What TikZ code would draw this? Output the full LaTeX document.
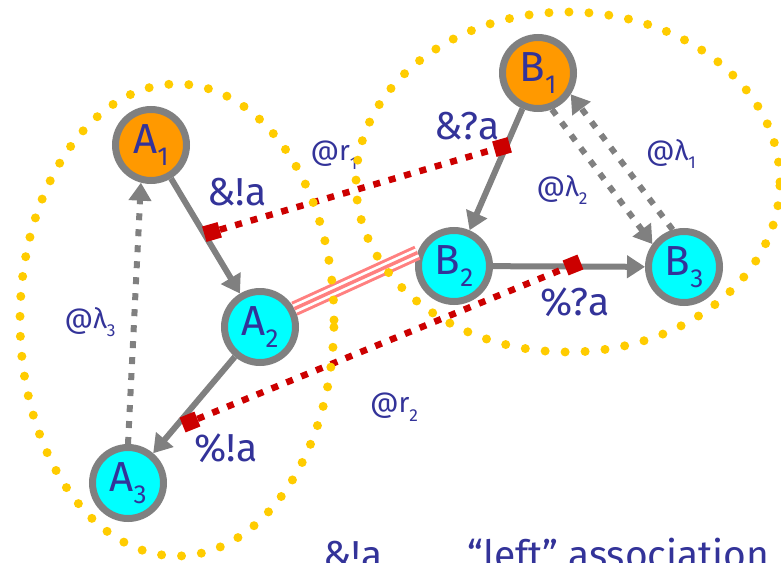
\documentclass[tikz,border=0pt]{standalone}
\usepackage{fontspec}
\setmainfont{Fira Sans}
\usetikzlibrary{arrows.meta,calc}
\definecolor{ink}{HTML}{333399}
\definecolor{ring}{HTML}{808080}
\definecolor{orangefill}{HTML}{FF9900}
\definecolor{cyanfill}{HTML}{00FFFF}
\definecolor{assoc}{HTML}{FF8080}
\definecolor{link}{HTML}{CC0000}
\definecolor{group}{HTML}{FFCC00}
\newcommand{\lowsub}[1]{\raisebox{-0.3em}{\scalebox{0.62}{#1}}}
\tikzset{
  state/.style={circle, draw=ring, line width=7pt, minimum size=71pt, inner sep=0pt, font=\fontsize{42}{42}\selectfont\color{ink}},
  init/.style={state, fill=orangefill},
  plain/.style={state, fill=cyanfill},
  op/.style={font=\fontsize{39}{40}\selectfont\color{ink}, inner sep=0pt},
  rate/.style={font=\fontsize{28}{30}\selectfont\color{ink}, inner sep=0pt},
  move/.style={-{Triangle[length=18pt,width=22pt]}, draw=ring, line width=6pt},
  back/.style={move, dash pattern=on 7pt off 9pt},
  sync/.style={draw=link, line width=6.5pt, dash pattern=on 7pt off 9pt},
  port/.style={rectangle, fill=link, minimum size=16pt, inner sep=0pt},
  bundle/.style={draw=group, line width=9pt, line cap=round, dash pattern=on 0pt off 20pt},
}

\begin{document}
\begin{tikzpicture}[x=1pt, y=-1pt]
    \useasboundingbox (0,0) rectangle (781,562);
    % components A and B
    \node[init]  (A1) at (151,145) {A\lowsub{1}};
    \node[plain] (A2) at (260,327) {A\lowsub{2}};
    \node[plain] (A3) at (128,483) {A\lowsub{3}};
    \node[init]  (B1) at (538,73)  {B\lowsub{1}};
    \node[plain] (B2) at (454,266) {B\lowsub{2}};
    \node[plain] (B3) at (684,267) {B\lowsub{3}};
    % labels
    \node[op] (opA1) at (237,192) {\&!a};
    \node[op] (opB1) at (467,126) {\&?a};
    \node[op] (opB2) at (575,302) {\%?a};
    \node[op] (opA2) at (226,448) {\%!a};
    \node[rate] (r1) at (334,155) {@r\lowsub{1}};
    \node[rate] (r2) at (394,407) {@r\lowsub{2}};
    \node[rate] (l1) at (671,154) {@λ\lowsub{1}};
    \node[rate] (l2) at (562,190) {@λ\lowsub{2}};
    \node[rate] (l3) at (90,322)  {@λ\lowsub{3}};
    % transitions
    \draw[move] (A1) -- (A2);
    \draw[move] (A2) -- (A3);
    \draw[back] (A3.north) -- (A1.255);
    \draw[move] (B1) -- (B2);
    \draw[move] (B2) -- (B3);
    \draw[back] (B1.291) -- (B3.144);
    \draw[back] (B3.107) -- (B1.327);
    % association A2 -- B2
    \foreach \w/\c in {15/assoc, 9/white, 3.5/assoc}
      \draw[draw=\c, line width=\w pt] (A2.28) -- (B2.160);
    % synchronisations
    \node[port, rotate=16] (pA1) at (212,232) {};
    \node[port, rotate=16] (pB1) at (502,147) {};
    \node[port, rotate=22] (pA2) at (190,422) {};
    \node[port, rotate=22] (pB2) at (573,265) {};
    \draw[sync] (pA1) -- (pB1);
    \draw[sync] (pA2) -- (pB2);
    % groups
    \draw[bundle] (177,320) ellipse [x radius=157pt, y radius=236pt];
    \draw[bundle] (568,182) ellipse [x radius=212pt, y radius=170pt];
    % key
    \node[op, anchor=base west] (keyop) at (323,568) {\&!a};
    \node[op, anchor=base west] (keytext) at (467,568) {“left” association};
\end{tikzpicture}
\end{document}
